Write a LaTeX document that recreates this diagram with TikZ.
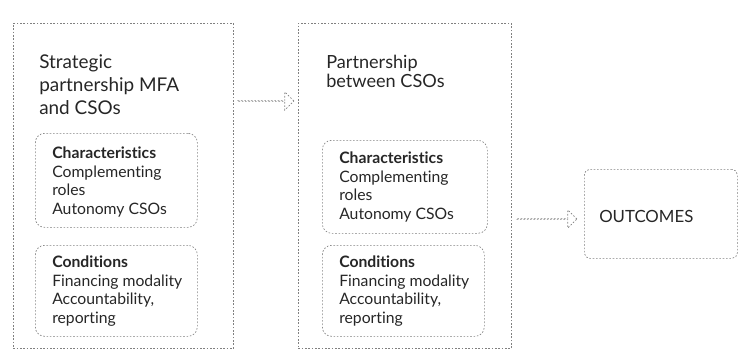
\documentclass[tikz,border=0pt]{standalone}
\usepackage{fontspec}
\setmainfont{Lato}[Ligatures={NoCommon,NoRare}]
\usetikzlibrary{shapes.arrows}

\tikzset{
  dotline/.style={draw=black!50, line width=0.5pt, dash pattern=on 1.2pt off 1.3pt},
  outerbox/.style={dotline, anchor=north west, inner sep=0pt},
  innerbox/.style={dotline, anchor=north west, inner sep=0pt, rounded corners=7pt},
  boxtext/.style={anchor=west, inner sep=0pt, align=left, text=black!85},
  blockarrow/.style={dotline, single arrow, single arrow head extend=3.4pt,
    minimum width=13.5pt, inner sep=0pt}
}

\begin{document}
\begin{tikzpicture}[x=0.75pt,y=-0.75pt]

    % Fix the page to the size of the reference
    \useasboundingbox (0,0) rectangle (739,350);

    % The two partnership frames
    \node[outerbox, minimum width=165pt, minimum height=243.75pt] (strat) at (13,23) {};
    \node[outerbox, minimum width=159.75pt, minimum height=243.75pt] (cso) at (298,23) {};

    % Outcomes box
    \node[innerbox, rounded corners=4pt, minimum width=114.75pt, minimum height=66.75pt] (outcomes) at (584,169) {};

    % Rounded boxes inside the frames
    \node[innerbox, minimum width=121.5pt, minimum height=70.5pt] (stratchar) at (35,133) {};
    \node[innerbox, minimum width=121.5pt, minimum height=68.25pt] (stratcond) at (35,245) {};
    \node[innerbox, minimum width=123.75pt, minimum height=69.75pt] (csochar) at (322,140) {};
    \node[innerbox, minimum width=121.5pt, minimum height=68.25pt] (csocond) at (322,245) {};

    % Frame titles
    \node[boxtext, font=\fontsize{14.2}{17.25}\selectfont] (strattitle) at (39,85)
      {Strategic\\partnership MFA\\and CSOs};
    \node[boxtext, font=\fontsize{13.6}{14.6}\selectfont] (csotitle) at (326,71.5)
      {Partnership\\between CSOs};

    % Texts of the rounded boxes
    \node[boxtext, font=\fontsize{11.8}{13.9}\selectfont] (stratchartext) at (52,182)
      {\textbf{Characteristics}\\Complementing\\roles\\Autonomy CSOs};
    \node[boxtext, font=\fontsize{11.8}{13.9}\selectfont] (stratcondtext) at (52,291)
      {\textbf{Conditions}\\Financing modality\\Accountability,\\reporting};
    \node[boxtext, font=\fontsize{11.8}{13.9}\selectfont] (csochartext) at (339,187)
      {\textbf{Characteristics}\\Complementing\\roles\\Autonomy CSOs};
    \node[boxtext, font=\fontsize{11.8}{13.9}\selectfont] (csocondtext) at (339,291)
      {\textbf{Conditions}\\Financing modality\\Accountability,\\reporting};
    \node[boxtext, font=\fontsize{12.6}{14}\selectfont] (outcomestext) at (599,216) {OUTCOMES};

    % Block arrows between the frames
    \node[blockarrow, minimum height=42pt] (arrowone) at (265.5,101) {};
    \node[blockarrow, minimum height=45pt] (arrowtwo) at (546.5,219) {};

\end{tikzpicture}
\end{document}
